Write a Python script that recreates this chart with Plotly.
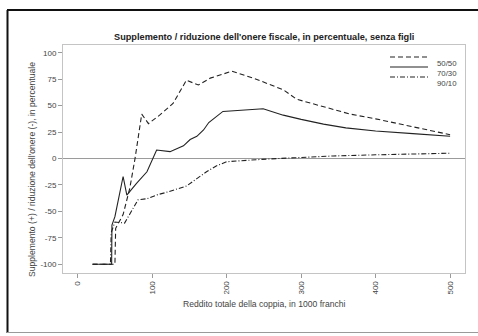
import plotly.graph_objects as go

# ---- data ----
x_5050 = [20, 50, 51, 61, 70, 77, 86, 95, 110, 128, 146, 162, 178, 207, 236, 276, 294, 330, 366, 400, 455, 500]
y_5050 = [-100, -100, -66, -53, -28, 0, 42, 33, 41, 52, 74, 69.5, 76, 82.5, 76, 65, 56, 49, 42, 37.5, 29, 22.5]

x_7030 = [20, 45.6, 46, 50, 61, 66, 79, 93, 106, 124, 142, 151, 160, 169, 176, 195, 249, 276, 300, 330, 360, 400, 450, 500]
y_7030 = [-100, -100, -63, -55, -17, -34.5, -23.5, -12.5, 8, 6.5, 12, 18, 21, 27, 34, 44.5, 47, 41, 37, 32.5, 29, 26, 23.5, 21]

x_9010 = [20, 44, 45, 50, 63, 81, 93, 108, 119, 137, 146, 160, 173, 186, 200, 254, 300, 343, 400, 450, 500]
y_9010 = [-100, -100, -70, -60, -61, -39, -38, -34, -32, -28, -26, -19, -12.5, -7, -3, -0.5, 1, 2.4, 3.5, 4.5, 5]

series_names = ["50/50", "70/30", "90/10"]
x_ticks = [0, 100, 200, 300, 400, 500]
y_ticks = [-100, -75, -50, -25, 0, 25, 50, 75, 100]

title_text = "Supplemento / riduzione dell'onere fiscale, in percentuale, senza figli"
xlab = "Reddito totale della coppia, in 1000 franchi"
ylab = "Supplemento (+) / riduzione dell'onere (-), in percentuale"

# ---- styles ----
W, H = 478, 336
ML, MR, MT, MB = 63, 13, 45, 63
PW, PH = W - ML - MR, H - MT - MB
LINE_COL = "#222222"
dashes = ["5px,3px", "solid", "5px,2px,1px,2px"]
FONT = "Liberation Sans, Arial, sans-serif"


def px2paper_x(px):
    return (px - ML) / PW


def px2paper_y(py):
    return (H - MB - py) / PH


fig = go.Figure()
for name, xs, ys, d in zip(series_names, [x_5050, x_7030, x_9010], [y_5050, y_7030, y_9010], dashes):
    fig.add_trace(go.Scatter(x=xs, y=ys, mode="lines", name=name,
                             line=dict(color=LINE_COL, width=1.1, dash=d),
                             showlegend=False))

fig.add_hline(y=0, line=dict(color="#9a9a9a", width=1), layer="below")

axis_common = dict(showgrid=False, zeroline=False, showline=True, mirror=True,
                   linecolor="#c4c4c4", linewidth=1, ticks="outside", ticklen=4,
                   tickcolor="#9a9a9a", tickwidth=1,
                   tickfont=dict(family=FONT, size=8, color="#444444"))

fig.update_layout(
    width=W, height=H,
    margin=dict(l=ML, r=MR, t=MT, b=MB),
    paper_bgcolor="white", plot_bgcolor="white",
    xaxis=dict(range=[-19.7, 520], tickvals=x_ticks, ticktext=[str(v) for v in x_ticks],
               tickangle=-90, **axis_common),
    yaxis=dict(range=[-108.2, 107.3], tickvals=y_ticks, ticktext=[str(v) for v in y_ticks],
               **axis_common),
    showlegend=False,
)

# titles
fig.add_annotation(text="<b>" + title_text + "</b>", xref="paper", yref="paper",
                   x=px2paper_x(264), y=px2paper_y(30), showarrow=False,
                   font=dict(family=FONT, size=9.2, color="#222222"))
fig.add_annotation(text=xlab, xref="paper", yref="paper",
                   x=px2paper_x(264.5), y=px2paper_y(310.5), showarrow=False,
                   font=dict(family=FONT, size=8.6, color="#444444"))
fig.add_annotation(text=ylab, xref="paper", yref="paper", textangle=-90,
                   x=px2paper_x(25), y=px2paper_y(170), showarrow=False,
                   font=dict(family=FONT, size=8.6, color="#444444"))

# manual legend (top right, no box)
leg_y = [57, 67, 77]
for name, d, ly in zip(series_names, dashes, leg_y):
    fig.add_shape(type="line", xref="paper", yref="paper",
                  x0=px2paper_x(390), x1=px2paper_x(428),
                  y0=px2paper_y(ly), y1=px2paper_y(ly),
                  line=dict(color=LINE_COL, width=1.1, dash=d))
    fig.add_annotation(text=name, xref="paper", yref="paper", xanchor="left",
                       x=px2paper_x(435), y=px2paper_y(ly), showarrow=False,
                       font=dict(family=FONT, size=7.8, color="#444444"))

# outer frame of the figure
fig.add_shape(type="line", xref="paper", yref="paper",
              x0=px2paper_x(7.5), x1=px2paper_x(7.5), y0=px2paper_y(10), y1=px2paper_y(333),
              line=dict(color="#111111", width=2))
fig.add_shape(type="line", xref="paper", yref="paper",
              x0=px2paper_x(7), x1=px2paper_x(478), y0=px2paper_y(10), y1=px2paper_y(10),
              line=dict(color="#111111", width=2))
fig.add_shape(type="line", xref="paper", yref="paper",
              x0=px2paper_x(7), x1=px2paper_x(478), y0=px2paper_y(332.5), y1=px2paper_y(332.5),
              line=dict(color="#9a9a9a", width=1))

fig.write_html("out.html", config={"displayModeBar": False},
               post_script="document.body.style.margin='0';")
